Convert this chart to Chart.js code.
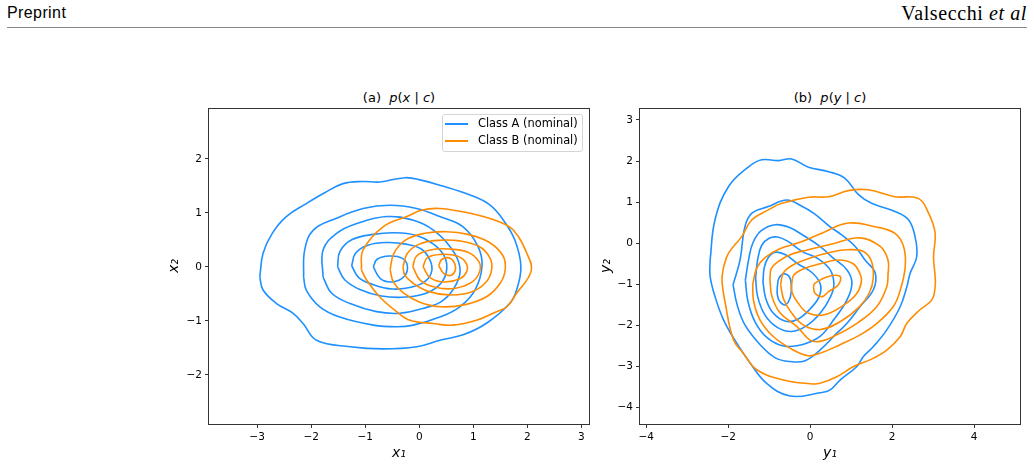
<!DOCTYPE html>
<html><head><meta charset="utf-8">
<script src="https://cdn.jsdelivr.net/npm/chart.js@4.4.1/dist/chart.umd.min.js"></script>
<style>
body{margin:0;width:1034px;height:468px;position:relative;background:#fff;overflow:hidden;font-family:"DejaVu Sans",sans-serif;color:#000}
#hdrL{position:absolute;left:7px;top:4px;font:16px "Liberation Sans",sans-serif;letter-spacing:0.4px;white-space:nowrap}
#hdrR{position:absolute;right:7px;top:2px;font:20px "Liberation Serif",serif;letter-spacing:0.6px;white-space:nowrap}
#rule{position:absolute;left:7px;width:1020px;top:27px;height:0;border-top:1px solid #888}
.ttl{position:absolute;top:90px;font:13px "DejaVu Sans",sans-serif;transform:translateX(-50%);white-space:nowrap}
canvas{position:absolute}
#cA{left:150px;top:85px}
#cB{left:595px;top:85px}
#legend{position:absolute;left:442px;top:114px;width:139px;height:36px;border:1px solid #d5d5d5;border-radius:3px;background:rgba(255,255,255,0.8);font:11.4px "DejaVu Sans",sans-serif}
#legend .row{position:relative;height:17.4px}
#legend .ln{position:absolute;left:2px;width:23px;height:2px;top:7.7px}
#legend .tx{position:absolute;left:35px;top:0;line-height:17.4px;white-space:nowrap}
</style></head>
<body>
<div id="hdrL">Preprint</div>
<div id="hdrR">Valsecchi <i>et al</i></div>
<div id="rule"></div>
<div class="ttl" style="left:399px">(a)&nbsp; <i>p</i>(<i>x</i> | <i>c</i>)</div>
<div class="ttl" style="left:830px">(b)&nbsp; <i>p</i>(<i>y</i> | <i>c</i>)</div>
<canvas id="cA" width="445" height="383"></canvas>
<canvas id="cB" width="439" height="383"></canvas>
<div id="legend"></div>
<script>
// ---------- data ----------
const classNames = ['Class A (nominal)', 'Class B (nominal)'];
const aXTicks = [-3, -2, -1, 0, 1, 2, 3];
const aYTicks = [-2, -1, 0, 1, 2];
const bXTicks = [-4, -2, 0, 2, 4];
const bYTicks = [-4, -3, -2, -1, 0, 1, 2, 3];

// panel (a) p(x|c), class A contours (outer -> inner)
const aClassA = [
  [[-2.95,-0.19],[-2.89,0.25],[-2.72,0.62],[-2.46,0.93],[-2.09,1.17],[-1.75,1.37],[-1.41,1.54],[-1.05,1.58],[-0.73,1.57],[-0.26,1.65],[0.05,1.6],[0.38,1.51],[0.94,1.33],[1.3,1.15],[1.56,0.86],[1.77,0.49],[1.88,0.0],[1.8,-0.43],[1.68,-0.67],[1.25,-1.04],[0.81,-1.26],[0.38,-1.36],[-0.05,-1.48],[-0.67,-1.52],[-1.28,-1.48],[-1.9,-1.36],[-2.15,-1.05],[-2.35,-0.85],[-2.64,-0.68],[-2.89,-0.43]],
  [[-2.14,-0.19],[-2.12,0.31],[-1.96,0.68],[-1.53,0.9],[-1.04,1.08],[-0.54,1.14],[-0.05,1.08],[0.38,0.93],[0.81,0.74],[1.09,0.37],[1.16,0.0],[1.03,-0.43],[0.75,-0.74],[0.38,-0.93],[-0.11,-1.08],[-0.42,-1.11],[-0.85,-1.08],[-1.47,-0.93],[-1.84,-0.74],[-2.09,-0.43]],
  [[-1.78,-0.19],[-1.78,0.31],[-1.53,0.62],[-1.16,0.8],[-0.6,0.93],[-0.11,0.86],[0.26,0.68],[0.57,0.37],[0.75,0.0],[0.69,-0.31],[0.44,-0.62],[0.07,-0.77],[-0.36,-0.86],[-0.79,-0.83],[-1.28,-0.68],[-1.62,-0.49]],
  [[-1.51,0.0],[-1.47,0.28],[-1.25,0.5],[-0.85,0.6],[-0.45,0.63],[-0.05,0.58],[0.25,0.43],[0.45,0.22],[0.51,-0.02],[0.42,-0.28],[0.15,-0.48],[-0.25,-0.56],[-0.7,-0.54],[-1.1,-0.42],[-1.38,-0.24]],
  [[-1.25,0.02],[-1.18,0.25],[-0.95,0.4],[-0.6,0.45],[-0.25,0.42],[0.05,0.32],[0.2,0.12],[0.23,-0.08],[0.12,-0.26],[-0.15,-0.38],[-0.5,-0.41],[-0.85,-0.33],[-1.12,-0.2]],
  [[-0.85,0.0],[-0.78,0.14],[-0.55,0.2],[-0.32,0.16],[-0.22,0.02],[-0.28,-0.18],[-0.5,-0.28],[-0.72,-0.22]]
];
// panel (a) p(x|c), class B contours
const aClassB = [
  [[-1.07,-0.06],[-1.04,0.31],[-0.67,0.74],[-0.23,0.93],[0.05,1.05],[0.38,1.08],[0.94,0.99],[1.49,0.83],[1.74,0.68],[1.99,0.25],[2.07,-0.08],[1.8,-0.49],[1.62,-0.74],[1.43,-0.83],[1.06,-0.99],[0.63,-1.08],[0.26,-1.05],[-0.17,-0.99],[-0.42,-0.83],[-0.73,-0.56],[-0.97,-0.25]],
  [[-0.54,-0.05],[-0.47,0.25],[-0.25,0.5],[0.1,0.62],[0.5,0.65],[0.9,0.6],[1.3,0.45],[1.55,0.2],[1.59,-0.05],[1.5,-0.3],[1.25,-0.55],[0.85,-0.7],[0.4,-0.74],[0.0,-0.65],[-0.3,-0.48],[-0.48,-0.28]],
  [[-0.3,0.0],[-0.22,0.25],[0.0,0.42],[0.35,0.49],[0.75,0.48],[1.1,0.38],[1.3,0.18],[1.34,-0.05],[1.22,-0.3],[0.95,-0.47],[0.55,-0.52],[0.15,-0.45],[-0.12,-0.3],[-0.27,-0.15]],
  [[-0.12,0.0],[-0.05,0.2],[0.2,0.31],[0.55,0.33],[0.9,0.27],[1.1,0.1],[1.12,-0.08],[0.98,-0.28],[0.65,-0.4],[0.3,-0.38],[0.02,-0.25]],
  [[0.07,0.0],[0.15,0.17],[0.4,0.23],[0.7,0.2],[0.86,0.08],[0.88,-0.08],[0.75,-0.22],[0.45,-0.28],[0.2,-0.2]],
  [[0.36,0.02],[0.42,0.14],[0.57,0.16],[0.66,0.05],[0.66,-0.08],[0.58,-0.16],[0.45,-0.12]]
];
// panel (b) p(y|c), class A contours
const bClassA = [
  [[-2.44,-0.41],[-2.32,0.57],[-1.99,1.38],[-1.5,1.86],[-1.18,2.03],[-0.77,2.01],[-0.45,2.05],[-0.04,1.85],[0.45,1.74],[0.85,1.58],[1.18,1.18],[1.5,0.97],[2.07,0.77],[2.4,0.57],[2.56,0.16],[2.6,-0.33],[2.44,-0.73],[2.36,-1.06],[2.2,-1.54],[1.87,-2.11],[1.54,-2.52],[1.3,-2.76],[1.14,-3.0],[0.73,-3.33],[0.49,-3.57],[0.24,-3.64],[-0.49,-3.72],[-1.06,-3.41],[-1.46,-2.92],[-1.79,-2.43],[-2.11,-1.87],[-2.32,-1.3],[-2.44,-0.8]],
  [[-1.88,-1.01],[-1.71,-0.41],[-1.59,0.4],[-1.42,0.73],[-1.02,0.89],[-0.57,1.05],[-0.2,0.9],[0.1,0.72],[0.49,0.4],[0.77,0.2],[1.1,-0.08],[1.34,-0.41],[1.59,-0.73],[1.54,-1.14],[1.22,-1.54],[0.9,-1.95],[0.65,-2.19],[0.24,-2.6],[-0.12,-2.86],[-0.49,-2.88],[-0.85,-2.79],[-1.22,-2.47],[-1.59,-1.99],[-1.78,-1.5]],
  [[-1.58,-0.9],[-1.5,-0.4],[-1.4,0.0],[-1.2,0.3],[-0.85,0.45],[-0.5,0.38],[-0.15,0.18],[0.24,-0.08],[0.55,-0.35],[0.9,-0.65],[1.02,-0.97],[0.9,-1.38],[0.57,-1.87],[0.24,-2.27],[-0.2,-2.47],[-0.65,-2.5],[-1.05,-2.3],[-1.35,-1.9],[-1.52,-1.4]],
  [[-1.33,-0.85],[-1.28,-0.4],[-1.18,-0.05],[-1.0,0.12],[-0.8,0.15],[-0.55,0.05],[-0.2,-0.2],[0.2,-0.38],[0.49,-0.65],[0.58,-1.0],[0.5,-1.3],[0.25,-1.7],[-0.1,-2.02],[-0.45,-2.15],[-0.8,-2.05],[-1.1,-1.75],[-1.28,-1.3]],
  [[-1.15,-0.95],[-1.12,-0.6],[-1.02,-0.35],[-0.85,-0.22],[-0.6,-0.28],[-0.3,-0.5],[0.05,-0.72],[0.25,-1.0],[0.22,-1.3],[0.0,-1.6],[-0.3,-1.85],[-0.6,-1.9],[-0.9,-1.7],[-1.08,-1.35]],
  [[-0.8,-1.05],[-0.76,-0.85],[-0.65,-0.75],[-0.52,-0.8],[-0.46,-1.0],[-0.48,-1.3],[-0.6,-1.5],[-0.74,-1.42],[-0.8,-1.25]]
];
// panel (b) p(y|c), class B contours
const bClassB = [
  [[-2.11,-0.57],[-1.99,-0.24],[-1.67,0.16],[-1.42,0.57],[-1.02,0.81],[-0.69,0.97],[-0.04,1.12],[0.45,1.13],[0.93,1.28],[1.42,1.3],[2.07,1.13],[2.64,1.09],[2.89,0.73],[3.05,0.24],[3.01,-0.33],[3.05,-0.81],[3.05,-1.06],[2.97,-1.38],[2.68,-1.62],[2.36,-1.95],[2.2,-2.27],[1.87,-2.6],[1.46,-2.84],[1.06,-3.0],[0.65,-3.25],[0.24,-3.41],[0.0,-3.42],[-0.65,-3.33],[-1.3,-3.08],[-1.63,-2.68],[-1.87,-2.35],[-2.07,-1.46],[-2.15,-0.9]],
  [[-1.4,-1.0],[-1.3,-0.6],[-1.1,-0.35],[-0.75,-0.14],[-0.25,0.02],[0.3,0.25],[0.93,0.49],[1.59,0.4],[2.07,0.24],[2.28,-0.08],[2.32,-0.57],[2.2,-1.14],[2.03,-1.54],[1.63,-1.95],[1.22,-2.23],[0.73,-2.47],[0.24,-2.68],[-0.05,-2.74],[-0.41,-2.6],[-0.9,-2.27],[-1.22,-1.87],[-1.38,-1.4]],
  [[-0.98,-0.9],[-0.95,-0.62],[-0.78,-0.45],[-0.49,-0.28],[-0.05,-0.16],[0.61,0.0],[1.22,0.13],[1.71,-0.08],[1.9,-0.41],[1.9,-0.77],[1.87,-1.06],[1.63,-1.54],[1.14,-1.95],[0.65,-2.23],[0.24,-2.39],[0.0,-2.36],[-0.32,-2.03],[-0.73,-1.7],[-0.93,-1.3]],
  [[-0.72,-1.0],[-0.65,-0.72],[-0.4,-0.52],[0.0,-0.36],[0.5,-0.22],[0.9,-0.16],[1.3,-0.2],[1.5,-0.45],[1.54,-0.85],[1.45,-1.2],[1.2,-1.55],[0.75,-1.9],[0.25,-2.1],[-0.15,-2.0],[-0.45,-1.7],[-0.65,-1.35]],
  [[-0.45,-1.0],[-0.4,-0.78],[-0.15,-0.62],[0.25,-0.5],[0.7,-0.41],[1.05,-0.5],[1.22,-0.75],[1.25,-0.95],[1.12,-1.25],[0.8,-1.52],[0.35,-1.74],[-0.05,-1.7],[-0.3,-1.45],[-0.44,-1.2]],
  [[0.08,-1.06],[0.12,-0.97],[0.45,-0.81],[0.73,-0.81],[0.69,-1.01],[0.45,-1.18],[0.29,-1.3],[0.12,-1.22]]
];

// ---------- style ----------
const COLORS = ['#1e90ff', '#ff8c00'];
Chart.defaults.font.family = "'DejaVu Sans', sans-serif";
Chart.defaults.color = '#000';

function closed(c) {
  const p = c.map(([x, y]) => ({x, y}));
  p.push({x: c[0][0], y: c[0][1]});
  return p;
}
function makeDatasets(groups) {
  const out = [];
  groups.forEach((g, gi) => g.forEach(c => out.push({
    label: classNames[gi], data: closed(c), borderColor: COLORS[gi], backgroundColor: COLORS[gi],
    borderWidth: 1.6, pointRadius: 0, pointHoverRadius: 0, showLine: true, fill: false,
    tension: 0.4, order: gi === 0 ? 1 : 0
  })));
  return out;
}
const fmt = v => String(v).replace('-', '\u2212');
function axis(min, max, ticks, title, isX, size, titlePad) {
  return {
    type: 'linear', position: isX ? 'bottom' : 'left', min, max,
    afterBuildTicks: s => { s.ticks = ticks.map(v => ({value: v})); },
    afterFit: s => { if (isX) s.height = size; else s.width = size; },
    grid: {display: true, drawOnChartArea: false, drawTicks: true, tickLength: 4, color: '#333', lineWidth: 1},
    border: {display: false},
    ticks: {color: '#000', font: {size: 10.5}, padding: 3, autoSkip: false, maxRotation: 0, callback: v => fmt(v)},
    title: {display: true, text: title, color: '#000', font: {size: 14, style: 'italic'}, padding: titlePad}
  };
}
const frame = {
  id: 'frame',
  afterDraw(chart) {
    const {ctx, chartArea: a} = chart;
    ctx.save();
    ctx.strokeStyle = '#333';
    ctx.lineWidth = 1;
    ctx.strokeRect(Math.round(a.left) - 0.5, Math.round(a.top) + 0.5, Math.round(a.right - a.left) + 1, Math.round(a.bottom - a.top));
    ctx.restore();
  }
};
function makeChart(id, groups, xr, yr, xt, yt, xlab, ylab, yWidth, pad, yTitlePad) {
  return new Chart(document.getElementById(id), {
    type: 'scatter',
    data: {datasets: makeDatasets(groups)},
    options: {
      responsive: false, animation: false, devicePixelRatio: 1,
      layout: {padding: pad},
      plugins: {legend: {display: false}, tooltip: {enabled: false}, title: {display: false}},
      scales: {
        x: axis(xr[0], xr[1], xt, xlab, true, 44, {top: 0, bottom: 6.6}),
        y: axis(yr[0], yr[1], yt, ylab, false, yWidth, {top: yTitlePad, bottom: 0})
      }
    },
    plugins: [frame]
  });
}
makeChart('cA', [aClassA, aClassB], [-3.89, 3.14], [-2.91, 2.94], aXTicks, aYTicks, 'x\u2081', 'x\u2082', 59, {top: 23, right: 6, bottom: 0, left: 0}, 15.6);
makeChart('cB', [bClassA, bClassB], [-4.15, 5.12], [-4.40, 3.29], bXTicks, bYTicks, 'y\u2081', 'y\u2082', 45, {top: 23, right: 14, bottom: 0, left: 0}, 2.6);

// legend
const lg = document.getElementById('legend');
classNames.forEach((n, i) => {
  const row = document.createElement('div');
  row.className = 'row';
  const ln = document.createElement('span');
  ln.className = 'ln';
  ln.style.background = COLORS[i];
  const tx = document.createElement('span');
  tx.className = 'tx';
  tx.textContent = n;
  row.appendChild(ln); row.appendChild(tx);
  lg.appendChild(row);
});
</script>
</body></html>
